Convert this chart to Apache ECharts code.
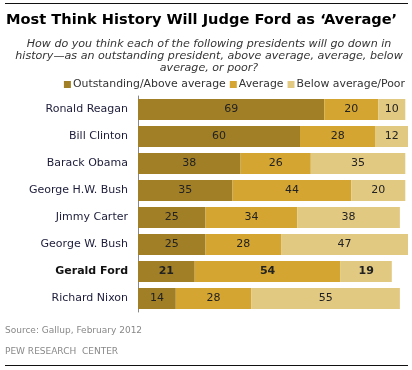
<!DOCTYPE html>
<html><head><meta charset="utf-8">
<script src="https://cdn.jsdelivr.net/npm/echarts@6/dist/echarts.min.js"></script>
<style>html,body{margin:0;padding:0;background:#fff}#c{width:412px;height:370px}</style>
</head><body><div id="c"></div>
<script>
var categories = ["Ronald Reagan","Bill Clinton","Barack Obama","George H.W. Bush","Jimmy Carter","George W. Bush","Gerald Ford","Richard Nixon"];
var outstanding = [69,60,38,35,25,25,21,14];
var average = [20,28,26,44,34,28,54,28];
var poor = [10,12,35,20,38,47,19,55];
var seriesNames = ["Outstanding/Above average","Average","Below average/Poor"];
var colors = ["#A17F26","#D4A531","#E2C982"];
var highlight = "Gerald Ford";
var FONT = "DejaVu Sans";

function mk(vals){
  return vals.map(function(v,i){
    var it = {value:v};
    if (categories[i]===highlight) it.label = {fontWeight:"bold"};
    return it;
  });
}
var chart = echarts.init(document.getElementById('c'), null, {renderer:'canvas'});
var allVals = [outstanding, average, poor];
var series = seriesNames.map(function(n,k){
  return {
    name:n, type:'bar', stack:'t', barCategoryGap:'22%',
    itemStyle:{color:colors[k]},
    label:{show:true, position:'inside', color:'#222', fontFamily:FONT, fontSize:11},
    data:mk(allVals[k])
  };
});
chart.setOption({
  animation:false,
  textStyle:{fontFamily:FONT},
  title:[
    {text:"Most Think History Will Judge Ford as \u2018Average\u2019", left:1, top:8,
     textStyle:{fontFamily:"DejaVu Sans", fontWeight:'bold', fontSize:14.6, color:'#000'}},
    {text:"How do you think each of the following presidents will go down in\nhistory\u2014as an outstanding president, above average, average, below\naverage, or poor?",
     left:204, top:33, textAlign:'center',
     textStyle:{fontFamily:FONT, fontStyle:'italic', fontWeight:'normal', fontSize:11.1, lineHeight:12, color:'#333'}},
    {text:"Source: Gallup, February 2012", left:0, top:321,
     textStyle:{fontFamily:FONT, fontWeight:'normal', fontSize:9, color:'#888'}},
    {text:"PEW RESEARCH  CENTER", left:0, top:342,
     textStyle:{fontFamily:FONT, fontWeight:'normal', fontSize:9, color:'#888'}}
  ],
  legend:{right:2, top:74, itemWidth:7, itemHeight:7, itemGap:4, icon:'rect',
    textStyle:{fontFamily:FONT, fontSize:10.9, color:'#333', padding:[0,0,0,-3]},
    data:seriesNames},
  grid:{left:138, right:4, top:96, height:216},
  xAxis:{type:'value', min:0, max:100, show:false},
  yAxis:{type:'category', data:categories, inverse:true,
    axisLine:{show:true, lineStyle:{color:'#888', width:1}},
    axisTick:{show:false},
    axisLabel:{margin:10, fontFamily:FONT, fontSize:11, color:'#1c1c3a',
      formatter:function(v){ return v===highlight ? '{b|'+v+'}' : v; },
      rich:{b:{fontWeight:'bold', fontFamily:FONT, fontSize:11, color:'#111'}}}},
  graphic:[
    {type:'rect', shape:{x:5,y:3,width:403,height:1}, style:{fill:'#111'}},
    {type:'rect', shape:{x:5,y:365,width:403,height:1}, style:{fill:'#111'}}
  ],
  series:series
});
</script></body></html>
